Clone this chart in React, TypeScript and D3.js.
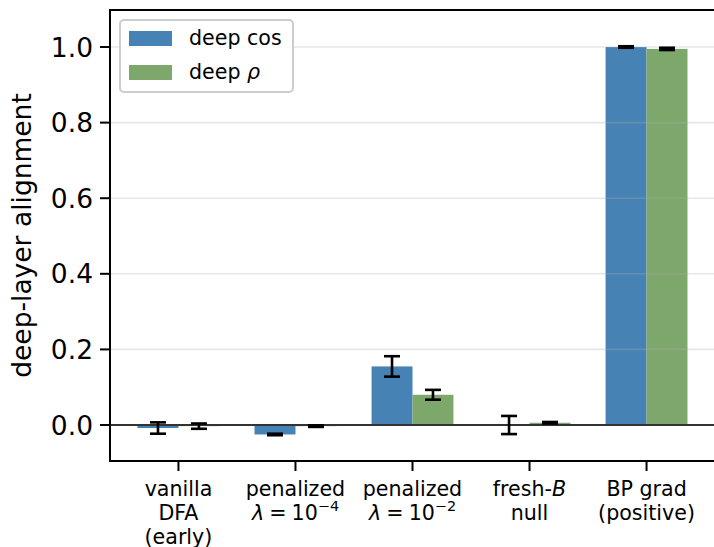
import React from "react";
import * as d3 from "d3";

const categories = ["vanilla", "penalized1e-4", "penalized1e-2", "fresh-B", "BP grad"];
const cosMean = [-0.008, -0.025, 0.155, 0.0, 1.0];
const cosErr = [0.015, 0.002, 0.027, 0.024, 0.002];
const rhoMean = [-0.003, -0.003, 0.08, 0.006, 0.995];
const rhoErr = [0.007, 0.002, 0.013, 0.002, 0.003];
const yTicks = [0.0, 0.2, 0.4, 0.6, 0.8, 1.0];

const W = 714;
const H = 547;
const FONT = "DejaVu Sans, sans-serif";
const BLUE = "#4682b4";
const GREEN = "#7ea76c";
const BAR_W = 0.35;

const L = 110, R = 715, T = 10, B = 461;

export default function App() {
  const x = d3.scaleLinear().domain([-0.585, 4.585]).range([L, R]);
  const y = d3.scaleLinear().domain([-0.0952, 1.0979]).range([B, T]);
  const bw = x(BAR_W) - x(0);

  const tickFs = 26.5;
  const xFs = 20.6;
  const line1 = 496, line2 = 520, line3 = 544;

  const renderLabel = (i: number, cx: number) => {
    const common = { x: cx, textAnchor: "middle" as const, fontSize: xFs, fontFamily: FONT, fill: "#000" };
    if (i === 0) {
      return (
        <g key={"xl" + i}>
          <text {...common} y={line1}>vanilla</text>
          <text {...common} y={line2}>DFA</text>
          <text {...common} y={line3}>(early)</text>
        </g>
      );
    }
    if (i === 1 || i === 2) {
      const exp = i === 1 ? "\u22124" : "\u22122";
      return (
        <g key={"xl" + i}>
          <text {...common} y={line1}>penalized</text>
          <text {...common} y={line2}>
            <tspan fontStyle="italic">λ</tspan>
            <tspan>{"\u2005=\u200510"}</tspan>
            <tspan fontSize={xFs * 0.7} dy={-xFs * 0.42}>{exp}</tspan>
          </text>
        </g>
      );
    }
    if (i === 3) {
      return (
        <g key={"xl" + i}>
          <text {...common} y={line1}>
            fresh-<tspan fontStyle="italic">B</tspan>
          </text>
          <text {...common} y={line2}>null</text>
        </g>
      );
    }
    return (
      <g key={"xl" + i}>
        <text {...common} y={line1}>BP grad</text>
        <text {...common} y={line2}>(positive)</text>
      </g>
    );
  };

  const errBar = (cx: number, m: number, e: number, key: string) => (
    <g key={key} stroke="#000" strokeWidth={2.6}>
      <line x1={cx} x2={cx} y1={y(m - e)} y2={y(m + e)} />
      <line x1={cx - 8} x2={cx + 8} y1={y(m - e)} y2={y(m - e)} />
      <line x1={cx - 8} x2={cx + 8} y1={y(m + e)} y2={y(m + e)} />
    </g>
  );

  return (
    <svg width={W} height={H} style={{ position: "absolute", left: 0, top: 0 }}>
      <rect x={0} y={0} width={W} height={H} fill="#fff" />
      {/* bars */}
      {categories.map((c, i) => {
        const cx = x(i);
        const v1 = cosMean[i];
        const v2 = rhoMean[i];
        return (
          <g key={c}>
            <rect x={cx - bw} width={bw} y={Math.min(y(v1), y(0))} height={Math.abs(y(v1) - y(0))} fill={BLUE} />
            <rect x={cx} width={bw} y={Math.min(y(v2), y(0))} height={Math.abs(y(v2) - y(0))} fill={GREEN} />
          </g>
        );
      })}
      {/* grid */}
      {yTicks.map((t) => (
        <line key={"g" + t} x1={L} x2={R} y1={y(t)} y2={y(t)} stroke="#b0b0b0" strokeOpacity={0.3} strokeWidth={1.6} />
      ))}
      {/* zero line */}
      <line x1={L} x2={R} y1={y(0)} y2={y(0)} stroke="#333" strokeWidth={1.8} />
      {/* error bars */}
      {categories.map((c, i) => (
        <g key={"e" + c}>
          {errBar(x(i) - bw / 2, cosMean[i], cosErr[i], "ec" + i)}
          {errBar(x(i) + bw / 2, rhoMean[i], rhoErr[i], "er" + i)}
        </g>
      ))}
      {/* spines */}
      <rect x={L} y={T} width={R - L} height={B - T} fill="none" stroke="#000" strokeWidth={2} />
      {/* y ticks */}
      {yTicks.map((t) => (
        <g key={"yt" + t}>
          <line x1={L - 10} x2={L} y1={y(t)} y2={y(t)} stroke="#000" strokeWidth={2} />
          <text x={93} y={y(t)} dy="0.36em" textAnchor="end" fontSize={tickFs} fontFamily={FONT} fill="#000">
            {t.toFixed(1)}
          </text>
        </g>
      ))}
      {/* x ticks */}
      {categories.map((c, i) => (
        <line key={"xt" + c} x1={x(i)} x2={x(i)} y1={B} y2={B + 10} stroke="#000" strokeWidth={2} />
      ))}
      {categories.map((c, i) => renderLabel(i, x(i)))}
      {/* y label */}
      <text
        transform={`translate(31, ${(T + B) / 2}) rotate(-90)`}
        textAnchor="middle"
        fontSize={26.5}
        fontFamily={FONT}
        fill="#000"
      >
        deep-layer alignment
      </text>
      {/* legend */}
      <g>
        <rect x={120} y={20} width={173} height={72} rx={4} fill="#fff" fillOpacity={0.8} stroke="#cccccc" strokeWidth={2} />
        <rect x={129} y={31} width={43} height={15} fill={BLUE} />
        <rect x={129} y={65} width={43} height={15} fill={GREEN} />
        <text x={189} y={45} fontSize={xFs} fontFamily={FONT} fill="#000">deep cos</text>
        <text x={189} y={79} fontSize={xFs} fontFamily={FONT} fill="#000">
          deep <tspan fontStyle="italic">ρ</tspan>
        </text>
      </g>
    </svg>
  );
}
